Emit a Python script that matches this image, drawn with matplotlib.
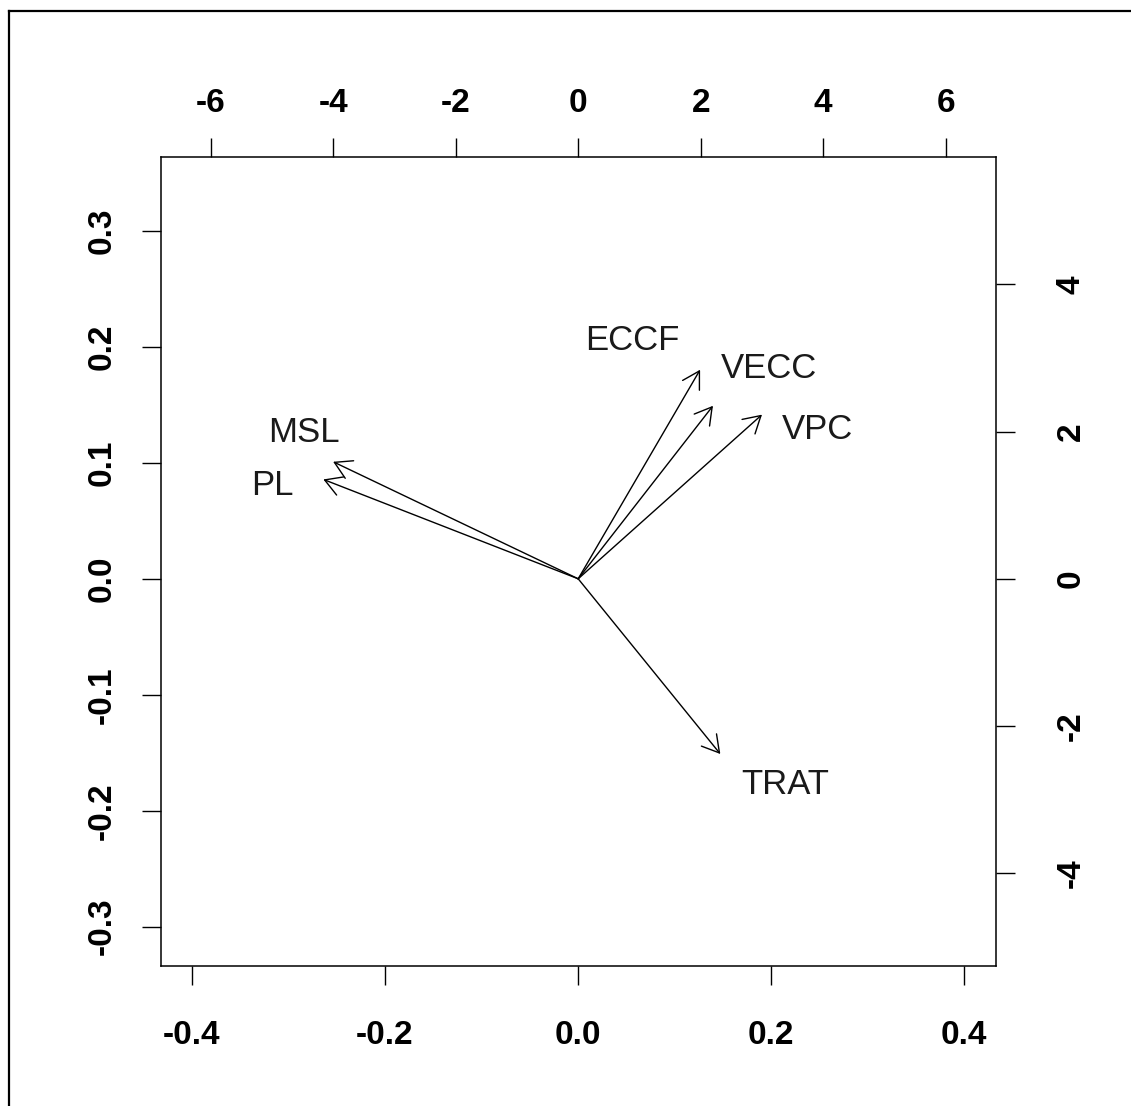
import matplotlib
matplotlib.use("Agg")
from matplotlib import pyplot as plt
from matplotlib.lines import Line2D

# variable loadings (top / right scale) and where their names sit
variables = ["ECCF", "VECC", "VPC", "MSL", "PL", "TRAT"]
load_x = [1.99, 2.20, 3.00, -4.00, -4.16, 2.32]
load_y = [2.84, 2.35, 2.23, 1.59, 1.35, -2.38]
name_x = [0.89, 3.11, 3.91, -4.48, -5.00, 3.38]
name_y = [3.24, 2.86, 2.03, 1.99, 1.27, -2.80]

# axis ticks
score_xticks = [-0.4, -0.2, 0.0, 0.2, 0.4]
score_yticks = [-0.3, -0.2, -0.1, 0.0, 0.1, 0.2, 0.3]
load_xticks = [-6, -4, -2, 0, 2, 4, 6]
load_yticks = [-4, -2, 0, 2, 4]

plt.rcParams["axes.unicode_minus"] = False
tick_font = dict(family="Liberation Sans", weight="bold", size=24)

W, H = 1131, 1106
fig = plt.figure(figsize=(W / 100, H / 100), dpi=100)

# outer frame (runs off the right and bottom edge)
fig.add_artist(Line2D([9 / W, 1.0], [1 - 11 / H, 1 - 11 / H], color="black", lw=1.6))
fig.add_artist(Line2D([9 / W, 9 / W], [0.0, 1 - 11 / H], color="black", lw=1.6))

pos = [161 / W, 1 - 966 / H, (996 - 161) / W, (966 - 157) / H]
ax = fig.add_axes(pos)
ax.set_xlim(-0.432, 0.433)
ax.set_ylim(-0.334, 0.364)
ax.set_xticks(score_xticks)
ax.set_xticklabels(["%.1f" % v for v in score_xticks], **tick_font)
ax.set_yticks(score_yticks)
ax.set_yticklabels(["%.1f" % v for v in score_yticks], **tick_font)
ax.tick_params(axis="x", length=14, width=1, pad=25)
ax.tick_params(axis="y", length=14, width=1, pad=17)
for lbl in ax.get_yticklabels():
    lbl.set_rotation(90)
    lbl.set_va("center")
for s in ax.spines.values():
    s.set_linewidth(1.1)

ax2 = fig.add_axes(pos, frameon=False)
ax2.set_xlim(-6.81, 6.82)
ax2.set_ylim(-5.26, 5.73)
ax2.xaxis.tick_top()
ax2.yaxis.tick_right()
ax2.set_xticks(load_xticks)
ax2.set_xticklabels([str(v) for v in load_xticks], **tick_font)
ax2.set_yticks(load_yticks)
ax2.set_yticklabels([str(v) for v in load_yticks], **tick_font)
ax2.tick_params(axis="x", length=14, width=1, pad=13)
ax2.tick_params(axis="y", length=14, width=1, pad=29)
for lbl in ax2.get_yticklabels():
    lbl.set_rotation(90)
    lbl.set_va("center")

for name, x, y, tx, ty in zip(variables, load_x, load_y, name_x, name_y):
    ax2.annotate("", xy=(x, y), xytext=(0, 0),
                 arrowprops=dict(arrowstyle="->,head_length=0.6,head_width=0.35",
                                 mutation_scale=20, color="black", lw=1.0,
                                 shrinkA=0, shrinkB=0))
    ax2.text(tx, ty, name, ha="center", va="center", fontsize=25,
             family="Liberation Sans", color="#1a1a1a")

plt.savefig("out.png", dpi=100)
